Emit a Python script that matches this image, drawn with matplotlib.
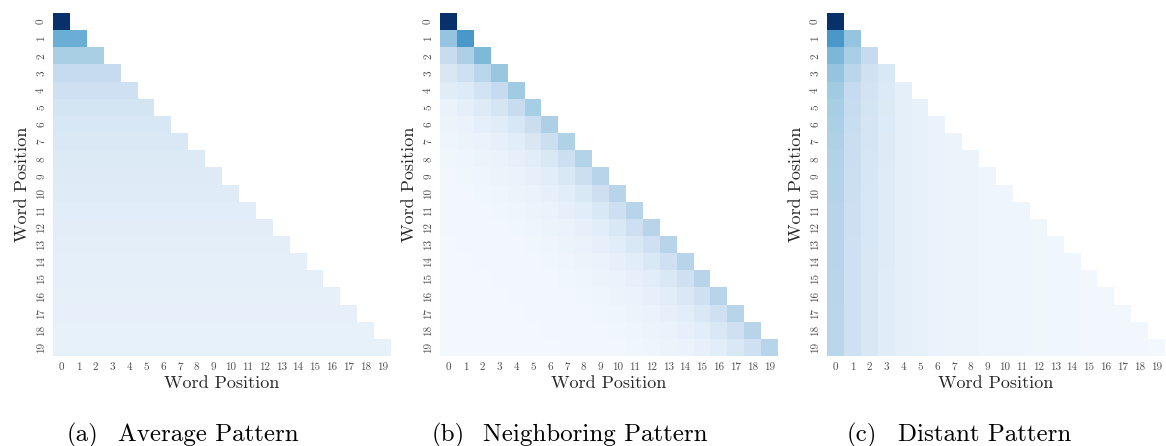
import numpy as np
import matplotlib
matplotlib.use('Agg')
import matplotlib.pyplot as plt

plt.rcParams['font.family'] = 'cmr10'
plt.rcParams['axes.unicode_minus'] = False
plt.rcParams['mathtext.fontset'] = 'cm'

n_words = 20
positions = [str(i) for i in range(n_words)]

# (a) average pattern: each row is nearly flat
avg_rows = [1.0, 0.5, 0.34, 0.25, 0.21, 0.18, 0.16, 0.145, 0.135, 0.125,
            0.118, 0.112, 0.106, 0.10, 0.096, 0.092, 0.088, 0.085, 0.082, 0.079]

# (b) neighboring pattern, read along the diagonals (offset 0 = diagonal)
nb_diag = [1.0, 0.6, 0.45, 0.39, 0.37, 0.35, 0.33, 0.32, 0.31, 0.30,
           0.30, 0.30, 0.30, 0.30, 0.30, 0.30, 0.30, 0.30, 0.30, 0.30]
nb_off1 = [0.40, 0.33, 0.29, 0.25, 0.24, 0.23, 0.22, 0.22, 0.22, 0.215,
           0.215, 0.215, 0.21, 0.21, 0.21, 0.21, 0.21, 0.21, 0.21]
nb_off2 = [0.24, 0.21, 0.19, 0.17, 0.16, 0.155, 0.15, 0.15, 0.15, 0.15,
           0.15, 0.15, 0.15, 0.15, 0.15, 0.15, 0.15, 0.15]
nb_off3 = [0.155, 0.13, 0.125, 0.115, 0.11, 0.11, 0.11, 0.11, 0.11, 0.11,
           0.11, 0.11, 0.11, 0.11, 0.11, 0.11, 0.11]
nb_off4 = [0.115, 0.095, 0.09, 0.085, 0.085, 0.085, 0.085, 0.085, 0.085, 0.085,
           0.085, 0.085, 0.085, 0.085, 0.085, 0.085]
# offsets 5..19, roughly the same down each diagonal
nb_far = [0.065, 0.055, 0.045, 0.04, 0.035, 0.032, 0.03, 0.028, 0.026, 0.025,
          0.024, 0.022, 0.021, 0.02, 0.02]

# (c) distant pattern, read down the columns
ds_col0 = [1.0, 0.6, 0.46, 0.40, 0.37, 0.35, 0.335, 0.325, 0.315, 0.31,
           0.305, 0.30, 0.30, 0.30, 0.30, 0.295, 0.295, 0.29, 0.29, 0.29]
ds_col1 = [0.40, 0.34, 0.29, 0.25, 0.24, 0.235, 0.23, 0.225, 0.22, 0.22,
           0.215, 0.215, 0.21, 0.21, 0.21, 0.21, 0.21, 0.21, 0.21]
ds_col2 = [0.25, 0.20, 0.185, 0.18, 0.175, 0.17, 0.165, 0.165, 0.16, 0.16,
           0.16, 0.16, 0.155, 0.155, 0.155, 0.155, 0.155, 0.155]
ds_col3 = [0.15, 0.14, 0.135, 0.13, 0.128, 0.125, 0.122, 0.12, 0.12, 0.12,
           0.118, 0.118, 0.115, 0.115, 0.115, 0.115, 0.115]
# columns 4..19, flat down each column
ds_rest = [0.095, 0.08, 0.07, 0.06, 0.055, 0.05, 0.046, 0.043, 0.04, 0.038,
           0.036, 0.034, 0.032, 0.03, 0.028, 0.026]

captions = [('(a)', 'Average Pattern'),
            ('(b)', 'Neighboring Pattern'),
            ('(c)', 'Distant Pattern')]


def row_matrix(rows):
    m = np.zeros((n_words, n_words))
    for i, v in enumerate(rows):
        m[i, :i + 1] = v
    return m


def band_matrix(bands, far):
    m = np.zeros((n_words, n_words))
    for k, vals in enumerate(bands):
        m += np.diag(vals, -k)
    for k, v in enumerate(far, start=len(bands)):
        m += np.diag(np.full(n_words - k, v), -k)
    return m


def column_matrix(cols, rest):
    m = np.zeros((n_words, n_words))
    for j, vals in enumerate(cols):
        m[j:, j] = vals
    for j, v in enumerate(rest, start=len(cols)):
        m[j:, j] = v
    return m


def draw_heatmap(ax, mat):
    '''
    lower triangle heatmap, Blues, labels in the middle of each cell
    '''
    mask = np.triu(np.ones_like(mat, dtype=bool), k=1)
    data = np.ma.masked_array(mat, mask)
    ax.pcolormesh(np.arange(n_words + 1), np.arange(n_words + 1), data,
                  cmap='Blues', vmin=0, vmax=1)
    ax.set_xlim(0, n_words)
    ax.set_ylim(n_words, 0)
    ticks = np.arange(n_words) + 0.5
    ax.set_xticks(ticks)
    ax.set_xticklabels(positions, fontsize=8, color='0.3')
    ax.set_yticks(ticks)
    ax.set_yticklabels(positions, fontsize=8, color='0.3', rotation=90, va='center')
    ax.tick_params(length=0, pad=5)
    for s in ax.spines.values():
        s.set_visible(False)
    ax.set_xlabel('Word Position', fontsize=13, color='0.15', labelpad=2)
    ax.set_ylabel('Word Position', fontsize=13, color='0.15', labelpad=5)


mats = [row_matrix(avg_rows),
        band_matrix([nb_diag, nb_off1, nb_off2, nb_off3, nb_off4], nb_far),
        column_matrix([ds_col0, ds_col1, ds_col2, ds_col3], ds_rest)]

W, H = 1166, 446
fig = plt.figure(figsize=(W / 100, H / 100), dpi=100)
lefts = [53, 440, 827]
cap_x = [67, 432, 847]
for left, mat, cx, (tag, name) in zip(lefts, mats, cap_x, captions):
    ax = fig.add_axes([left / W, (H - 356) / H, 338 / W, 343 / H])
    draw_heatmap(ax, mat)
    fig.text(cx / W, 5 / H, tag, fontsize=18, ha='left', va='baseline')
    fig.text((cx + 51) / W, 5 / H, name, fontsize=18, ha='left', va='baseline')

fig.savefig('out.png', dpi=100)
